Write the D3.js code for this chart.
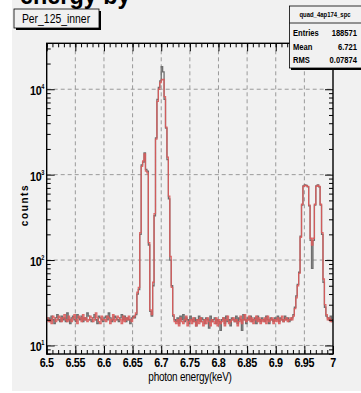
<!DOCTYPE html>
<html>
<head>
<meta charset="utf-8">
<script src="https://cdn.jsdelivr.net/npm/d3@7"></script>
<style>
  body { margin: 0; background: #fff; }
  svg { display: block; }
  text { font-family: "Liberation Sans", Arial, sans-serif; }
</style>
</head>
<body>
<div id="chart"></div>
<script>
// histogram bins: 200 bins of 2.5 eV between 6.5 and 7 keV
var energyMin = 6.5
var binWidth = 0.0025

var countsGray = [
  20,21,19,22,20,18,21,23,20,19, 22,20,21,19,24,20,18,21,22,20,
  19,23,21,20,22,19,21,20,24,22, 20,19,21,23,20,18,22,21,20,19,
  21,22,20,24,21,19,20,22,21,20, 19,21,23,20,22,19,21,20,18,21,
  22,21,23,40,45,200,1300,1400,1800,1150, 1100,150,25,22,50,330,2700,7600,10500,12500,
  18400,16000,7600,3500,1500,520,100,50,22,20, 19,21,18,22,20,23,19,21,20,18,
  22,20,19,21,17,20,22,19,21,20, 18,21,20,16,22,19,20,21,18,20,
  19,15,20,21,18,22,19,20,17,21, 20,19,22,18,21,20,15,23,20,18,
  21,20,22,19,20,21,18,22,20,19, 21,20,19,22,20,18,21,20,19,21,
  20,22,19,21,20,19,22,20,21,19, 20,21,23,28,38,52,72,190,440,740,
  760,750,720,430,170,80,170,440,740,760, 720,440,200,55,28,22,21,20,22,19
]

var countsRed = [
  21,19,20,18,22,21,19,20,22,21, 19,21,23,20,19,22,20,19,21,23,
  20,18,22,21,19,23,20,21,19,20, 22,21,19,20,24,21,19,18,22,20,
  20,19,22,21,18,20,23,19,20,22, 21,20,18,22,19,21,20,22,20,19,
  21,22,24,42,48,210,1250,1450,1750,1100, 1050,160,26,23,55,350,2600,7200,10000,12000,
  12900,13000,8200,3600,1600,560,110,48,23,19, 18,20,17,21,19,18,20,22,17,19,
  20,18,21,19,17,20,18,21,19,17, 20,18,21,19,17,20,19,18,21,17,
  20,18,19,21,17,20,22,18,19,20, 21,19,20,17,19,22,18,20,23,19,
  20,22,19,21,18,20,22,19,21,18, 20,19,21,18,22,19,20,21,18,20,
  19,21,18,20,22,19,20,21,19,20, 21,20,22,27,36,50,70,185,450,730,
  750,740,730,440,180,150,180,450,730,750, 730,450,210,60,30,23,20,21,19,20
]

var xTickValues = [6.5, 6.55, 6.6, 6.65, 6.7, 6.75, 6.8, 6.85, 6.9, 6.95, 7]
var xTickLabels = ["6.5", "6.55", "6.6", "6.65", "6.7", "6.75", "6.8", "6.85", "6.9", "6.95", "7"]
var yDecades = [10, 100, 1000, 10000]
var yExponents = ["1", "2", "3", "4"]

var statsTitle = "quad_4ap174_spc"
var statsNames = ["Entries", "Mean", "RMS"]
var statsValues = ["188571", "6.721", "0.07874"]

var width = 361, height = 393
var fLeft = 46.7, fRight = 333, fTop = 43.3, fBottom = 354

var svg = d3.select("#chart")
  .append("svg")
  .attr("width", width)
  .attr("height", height)

// condensed text: a group moved to (px,py) and squeezed horizontally
function narrow(sel, px, py, sx) {
  var g = sel.append("g").attr("transform", "translate(" + px + "," + py + ") scale(" + sx + ",1)")
  return g.append("text")
}

// pad
svg.append("rect")
  .attr("x", 12).attr("y", 0)
  .attr("width", width - 12).attr("height", 391)
  .attr("fill", "#f1f1f1")

// cut off canvas title (only its lower part is inside the picture)
narrow(svg, 20, 4, 0.9)
  .attr("font-size", 26).attr("font-weight", "bold")
  .text("energy by")

var x = d3.scaleLinear().domain([6.5, 7]).range([fLeft, fRight])
var y = d3.scaleLog().domain([Math.pow(10, 0.9), Math.pow(10, 4.538)]).range([fBottom, fTop])

// grid
svg.append("g").selectAll("line")
  .data(xTickValues.slice(1, -1))
  .enter().append("line")
  .attr("x1", d => x(d)).attr("x2", d => x(d))
  .attr("y1", fTop).attr("y2", fBottom)
  .attr("stroke", "#9a9a9a").attr("stroke-dasharray", "4,3")

svg.append("g").selectAll("line")
  .data(yDecades)
  .enter().append("line")
  .attr("x1", fLeft).attr("x2", fRight)
  .attr("y1", d => y(d)).attr("y2", d => y(d))
  .attr("stroke", "#9a9a9a").attr("stroke-dasharray", "4,3")

// histograms as steps
svg.append("clipPath").attr("id", "frame")
  .append("rect").attr("x", fLeft).attr("y", fTop)
  .attr("width", fRight - fLeft).attr("height", fBottom - fTop)

function steps(counts) {
  var pts = counts.map((c, i) => [energyMin + i * binWidth, c])
  pts.push([energyMin + counts.length * binWidth, counts[counts.length - 1]])
  return pts
}

var line = d3.line()
  .x(d => x(d[0]))
  .y(d => y(d[1]))
  .curve(d3.curveStepAfter)

svg.append("path")
  .attr("d", line(steps(countsGray)))
  .attr("fill", "none")
  .attr("stroke", "#6e6e6e")
  .attr("stroke-width", 1.3)
  .attr("clip-path", "url(#frame)")

svg.append("path")
  .attr("d", line(steps(countsRed)))
  .attr("fill", "none")
  .attr("stroke", "#dc5a5a")
  .attr("stroke-opacity", 0.9)
  .attr("stroke-width", 1.3)
  .attr("clip-path", "url(#frame)")

// axes: ticks inside the frame
var xMinor = d3.range(0, 51).map(i => 6.5 + i * 0.01)
var yMinor = []
yDecades.concat([1]).forEach(function(d) {
  for (var m = 2; m <= 9; m++) {
    var v = d * m
    if (v > y.domain()[0] && v < y.domain()[1]) yMinor.push(v)
  }
})

function noLabels(g) {
  g.select(".domain").remove()
  g.selectAll("text").remove()
  g.selectAll("line").attr("stroke", "#000")
}

svg.append("g").attr("transform", "translate(0," + fBottom + ")")
  .call(d3.axisBottom(x).tickValues(xMinor).tickSize(-4)).call(noLabels)
svg.append("g").attr("transform", "translate(0," + fBottom + ")")
  .call(d3.axisBottom(x).tickValues(xTickValues).tickSize(-8)).call(noLabels)
svg.append("g").attr("transform", "translate(0," + fTop + ")")
  .call(d3.axisTop(x).tickValues(xMinor).tickSize(-4)).call(noLabels)
svg.append("g").attr("transform", "translate(0," + fTop + ")")
  .call(d3.axisTop(x).tickValues(xTickValues).tickSize(-8)).call(noLabels)

svg.append("g").attr("transform", "translate(" + fLeft + ",0)")
  .call(d3.axisLeft(y).tickValues(yMinor).tickSize(-4)).call(noLabels)
svg.append("g").attr("transform", "translate(" + fLeft + ",0)")
  .call(d3.axisLeft(y).tickValues(yDecades).tickSize(-8)).call(noLabels)
svg.append("g").attr("transform", "translate(" + fRight + ",0)")
  .call(d3.axisRight(y).tickValues(yMinor).tickSize(-4)).call(noLabels)
svg.append("g").attr("transform", "translate(" + fRight + ",0)")
  .call(d3.axisRight(y).tickValues(yDecades).tickSize(-8)).call(noLabels)

// frame
svg.append("rect")
  .attr("x", fLeft).attr("y", fTop)
  .attr("width", fRight - fLeft).attr("height", fBottom - fTop)
  .attr("fill", "none").attr("stroke", "#000").attr("stroke-width", 1.4)

// tick labels
xTickValues.forEach(function(d, i) {
  narrow(svg, x(d), fBottom + 13, 0.8)
    .attr("text-anchor", "middle")
    .attr("font-size", 13.5).attr("font-weight", "bold")
    .attr("letter-spacing", -0.4)
    .text(xTickLabels[i])
})

yDecades.forEach(function(d, i) {
  var t = narrow(svg, 30, y(d) + 6, 0.8)
    .attr("font-size", 13.5).attr("font-weight", "bold")
    .attr("letter-spacing", -0.4)
  t.append("tspan").text("10")
  t.append("tspan").attr("font-size", 7).attr("dy", -6).text(yExponents[i])
})

// axis titles
narrow(svg, 190, 381, 0.8)
  .attr("text-anchor", "middle")
  .attr("font-size", 12.5)
  .attr("letter-spacing", -0.3)
  .text("photon energy(keV)")

svg.append("text")
  .attr("transform", "translate(28,205) rotate(-90)")
  .attr("text-anchor", "middle")
  .attr("font-size", 10).attr("font-weight", "bold")
  .attr("letter-spacing", 1.6)
  .text("counts")

// title box with shadow
svg.append("rect").attr("x", 16).attr("y", 11).attr("width", 85).attr("height", 19).attr("fill", "#000")
svg.append("rect").attr("x", 14).attr("y", 9).attr("width", 85).attr("height", 19)
  .attr("fill", "#f1f1f1").attr("stroke", "#000").attr("stroke-width", 0.8)
narrow(svg, 56, 23, 0.8)
  .attr("text-anchor", "middle")
  .attr("font-size", 13)
  .text("Per_125_inner")

// stats box
svg.append("rect").attr("x", 291).attr("y", 8).attr("width", 72).attr("height", 62).attr("fill", "#000")
svg.append("rect").attr("x", 289.5).attr("y", 6).attr("width", 72).attr("height", 62)
  .attr("fill", "#f1f1f1").attr("stroke", "#000").attr("stroke-width", 0.8)
svg.append("line").attr("x1", 289.5).attr("x2", 361).attr("y1", 23).attr("y2", 23)
  .attr("stroke", "#000").attr("stroke-width", 0.8)
narrow(svg, 325, 17, 0.85)
  .attr("text-anchor", "middle")
  .attr("font-size", 7).attr("font-weight", "bold")
  .text(statsTitle)

statsNames.forEach(function(d, i) {
  narrow(svg, 293, 36 + i * 13.5, 0.8)
    .attr("font-size", 9.5).attr("font-weight", "bold")
    .text(d)
  narrow(svg, 357, 36 + i * 13.5, 0.8)
    .attr("text-anchor", "end")
    .attr("font-size", 9.5).attr("font-weight", "bold")
    .text(statsValues[i])
})
</script>
</body>
</html>
